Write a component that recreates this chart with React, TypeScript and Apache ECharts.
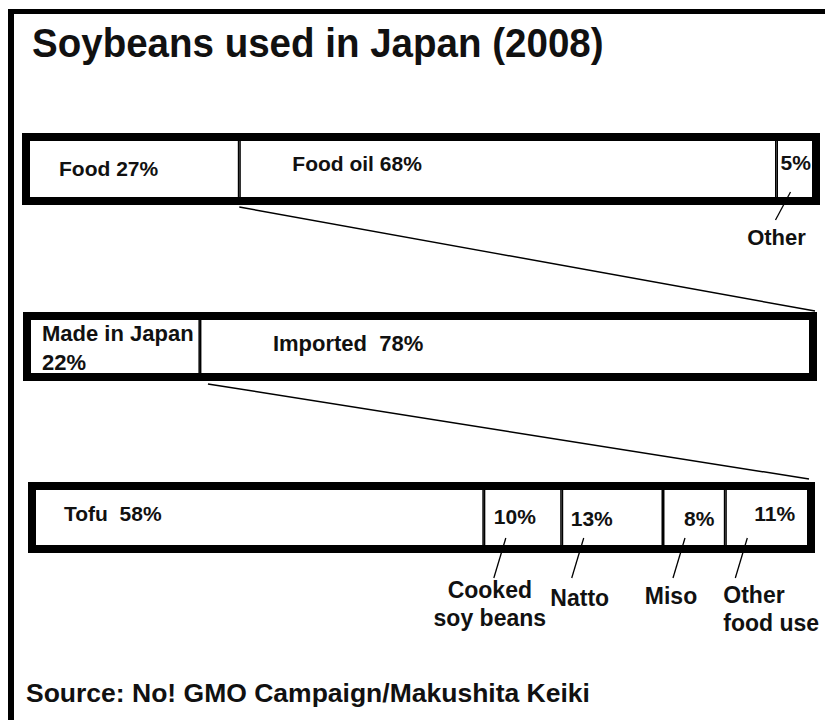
import React, { useEffect, useRef } from 'react';
import * as echarts from 'echarts';

// ---------- data ----------
const titleText = 'Soybeans used in Japan (2008)';
const sourceText = 'Source: No! GMO Campaign/Makushita Keiki';

// Bar 1: what soybeans are used for
const useNames = ['Food ', 'Food oil ', ''];
const useValues = [27, 68, 5];
const useOutside = ['', '', 'Other'];

// Bar 2: origin of the food soybeans
const originNames = ['Made in Japan\n', 'Imported  '];
const originValues = [22, 78];

// Bar 3: domestic soybeans by food use
const foodNames = ['Tofu  ', '', '', '', ''];
const foodValues = [58, 10, 13, 8, 11];
const foodOutside = ['', 'Cooked\nsoy beans', 'Natto', 'Miso', 'Other\nfood use'];

// ---------- styling ----------
const FONT = '"Liberation Sans", Arial, Helvetica, sans-serif';
const INK = '#111';

const grids = [
  { left: 26, top: 137, width: 790, height: 64 },
  { left: 27, top: 316, width: 786, height: 61 },
  { left: 32, top: 486, width: 779, height: 63 },
];
const labelPositions = [
  [[33, 31], [53, 26], [4, 25]],
  [[15, 31.5], [73, 27]],
  [[32, 27], [10, 30], [9, 32], [21, 32], [29, 27]],
];
const labelSizes = [21, 22, 21];
// outside label offsets relative to leader-line bottom: [dx, dy, align]
const foodOutsideOffsets: [number, number, string][] = [
  [0, 0, 'center'],
  [-4, -2, 'center'],
  [8, 6, 'center'],
  [-2, 4, 'center'],
  [-12, 3, 'left'],
];

function textStyle(text: string, size: number, align: string, vAlign: string, lineHeight?: number) {
  return {
    text,
    fontSize: size,
    fontWeight: 'bold',
    fontFamily: FONT,
    fill: INK,
    align,
    verticalAlign: vAlign,
    textAlign: align,
    textVerticalAlign: vAlign,
    lineHeight: lineHeight || size * 1.2,
  };
}

export default function App() {
  const ref = useRef<HTMLDivElement>(null);

  useEffect(() => {
    if (!ref.current) return;
    const chart = echarts.init(ref.current, null, { renderer: 'svg', width: 825, height: 720 });

    const barSets = [
      { names: useNames, values: useValues },
      { names: originNames, values: originValues },
      { names: foodNames, values: foodValues },
    ];

    const series: any[] = [];
    barSets.forEach((b, g) => {
      b.values.forEach((v, i) => {
        series.push({
          type: 'bar',
          stack: 'bar' + g,
          xAxisIndex: g,
          yAxisIndex: g,
          barWidth: '100%',
          silent: true,
          data: [v],
          itemStyle: { color: 'rgba(0,0,0,0)', borderColor: '#000', borderWidth: 1.5 },
          label: {
            show: true,
            position: labelPositions[g][i],
            align: 'left',
            verticalAlign: 'middle',
            formatter: b.names[i] + v + '%',
            fontFamily: FONT,
            fontWeight: 'bold',
            fontSize: labelSizes[g],
            lineHeight: 29,
            color: INK,
          },
        });
      });
    });

    chart.setOption({
      animation: false,
      backgroundColor: '#fff',
      grid: grids.map((gr) => ({
        ...gr,
        show: true,
        borderWidth: 8,
        borderColor: '#000',
        backgroundColor: 'rgba(0,0,0,0)',
      })),
      xAxis: grids.map((_, g) => ({ type: 'value', gridIndex: g, min: 0, max: 100, show: false })),
      yAxis: grids.map((_, g) => ({ type: 'category', gridIndex: g, data: ['all'], show: false })),
      series,
    });

    const xOf = (g: number, v: number) => chart.convertToPixel({ xAxisIndex: g }, v) as number;
    const starts = (vals: number[]) => {
      const out: number[] = [];
      let c = 0;
      vals.forEach((v) => {
        out.push(c);
        c += v;
      });
      return out;
    };
    const useStarts = starts(useValues);
    const originStarts = starts(originValues);
    const foodStarts = starts(foodValues);

    const graphics: any[] = [];
    // outer frame (top and left edges)
    graphics.push({ type: 'rect', shape: { x: 8, y: 9, width: 817, height: 5 }, style: { fill: '#000' } });
    graphics.push({ type: 'rect', shape: { x: 8, y: 9, width: 6, height: 711 }, style: { fill: '#000' } });
    // title & source
    graphics.push({ type: 'text', x: 32, y: 43, scaleX: 0.94, style: textStyle(titleText, 41, 'left', 'middle') });
    graphics.push({ type: 'text', x: 26, y: 693, style: textStyle(sourceText, 26.5, 'left', 'middle') });

    // connector lines between bars
    const b1Bottom = grids[0].top + grids[0].height + 4;
    const b2Top = grids[1].top - 4;
    const b2Bottom = grids[1].top + grids[1].height + 4;
    const b3Top = grids[2].top - 4;
    graphics.push({
      type: 'line',
      shape: { x1: xOf(0, useStarts[1]), y1: b1Bottom + 2, x2: xOf(1, 100) + 2, y2: b2Top - 1 },
      style: { stroke: '#000', lineWidth: 1.5 },
    });
    graphics.push({
      type: 'line',
      shape: { x1: xOf(1, originStarts[1]) + 8, y1: b2Bottom + 3, x2: xOf(2, 100) - 2, y2: b3Top - 3 },
      style: { stroke: '#000', lineWidth: 1.5 },
    });

    // leader + label for bar 1 "Other"
    useOutside.forEach((name, i) => {
      if (!name) return;
      const sx = xOf(0, useStarts[i]);
      const top = { x: sx + 14, y: 192 };
      const bot = { x: sx - 1, y: 220 };
      graphics.push({
        type: 'line',
        shape: { x1: top.x, y1: top.y, x2: bot.x, y2: bot.y },
        style: { stroke: '#000', lineWidth: 1.3 },
      });
      graphics.push({ type: 'text', x: bot.x + 1, y: 237, style: textStyle(name, 22, 'center', 'middle') });
    });

    // leaders + labels for bar 3
    foodOutside.forEach((name, i) => {
      if (!name) return;
      const sx = xOf(2, foodStarts[i]);
      const top = { x: sx + 22, y: 538 };
      const bot = { x: sx + 10, y: 578 };
      graphics.push({
        type: 'line',
        shape: { x1: top.x, y1: top.y, x2: bot.x, y2: bot.y },
        style: { stroke: '#000', lineWidth: 1.3 },
      });
      const [dx, dy, al] = foodOutsideOffsets[i];
      graphics.push({
        type: 'text',
        x: bot.x + dx,
        y: bot.y + dy,
        style: textStyle(name, 23, al, 'top', 28),
      });
    });

    chart.setOption({ graphic: graphics });

    return () => chart.dispose();
  }, []);

  return (
    <div
      ref={ref}
      style={{ position: 'fixed', left: 0, top: 0, width: 825, height: 720, background: '#fff' }}
    />
  );
}
